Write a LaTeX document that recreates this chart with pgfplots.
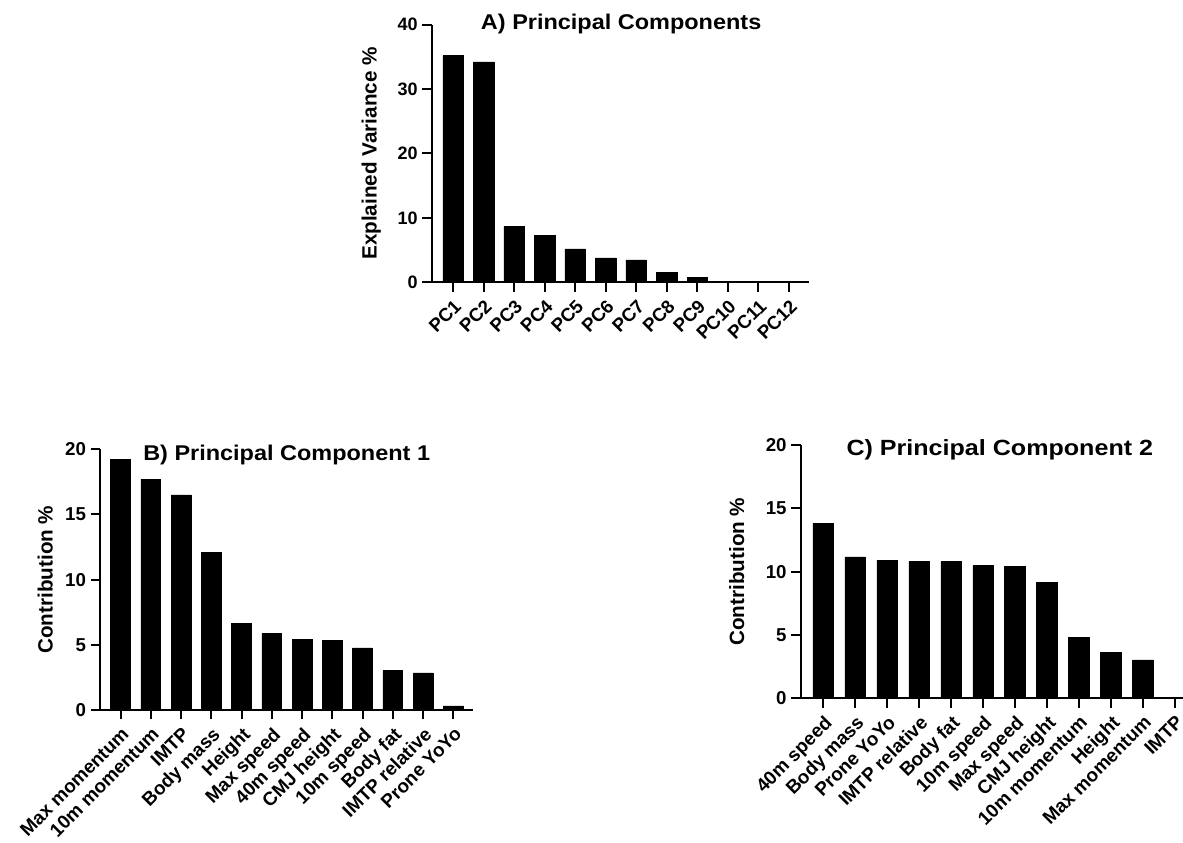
\documentclass[border=0pt]{standalone}
\usepackage{pgfplots}
\pgfplotsset{compat=1.18}
\usepackage{fontspec}
\usepackage{graphicx}
\setmainfont{Liberation Sans}
\newcommand{\wide}[2][1.1]{\scalebox{#1}[1]{#2}}
\pgfplotsset{
  pcstyle/.style={
    scale only axis,
    anchor=south west,
    ybar,
    axis x line=bottom,
    axis y line=left,
    axis line style={-, line width=1.5pt, black},
    tick style={line width=1.5pt, black},
    major tick length=7pt,
    tick align=outside,
    ymin=0,
    xtick=data,
    clip=false,
    /pgf/number format/assume math mode=true,
    tick label style={font=\fontsize{14}{16}\selectfont\bfseries},
    x tick label style={rotate=45, anchor=north east, inner sep=3.5pt, font=\fontsize{14.2}{16}\selectfont\bfseries},
    ylabel style={font=\fontsize{15.5}{18}\selectfont\bfseries, anchor=center},
  }
}
\begin{document}
\begin{tikzpicture}
\path[use as bounding box] (0,0) rectangle (887.25pt,632.25pt);
% Panel A
\begin{axis}[pcstyle,
  at={(323.8pt,420.5pt)}, width=283pt, height=193.3pt,
  xmin=-0.70, xmax=11.66, ymax=40, ytick={0,10,20,30,40},
  bar width=15.5pt,
  y tick label style={font=\fontsize{13.5}{16}\selectfont\bfseries},
  x tick label style={font=\fontsize{14}{16}\selectfont\bfseries, inner sep=3.5pt},
  xticklabels={PC1,PC2,PC3,PC4,PC5,PC6,PC7,PC8,PC9,PC10,PC11,PC12},
  ylabel={Explained Variance \%},
  ylabel style={at={(axis description cs:-0.16,0.5)}},
]
\addplot[fill=black, draw=black] coordinates {(0,35.2) (1,34.2) (2,8.7) (3,7.25) (4,5.2) (5,3.8) (6,3.5) (7,1.55) (8,0.78) (9,0) (10,0) (11,0)};
\node[anchor=base, font=\fontsize{16}{19}\selectfont\bfseries] at (axis description cs:0.502,0.982) {\wide{A) Principal Components}};
\end{axis}
% Panel B
\begin{axis}[pcstyle,
  at={(75pt,99.75pt)}, width=279.75pt, height=195.5pt,
  xmin=-0.68, xmax=11.65, ymax=20, ytick={0,5,10,15,20},
  bar width=14.8pt,
  xticklabels={Max momentum,10m momentum,IMTP,Body mass,Height,Max speed,40m speed,CMJ height,10m speed,Body fat,IMTP relative,Prone YoYo},
  ylabel={Contribution \%},
  ylabel style={at={(axis description cs:-0.147,0.5)}},
]
\addplot[fill=black, draw=black] coordinates {(0,19.23) (1,17.72) (2,16.5) (3,12.12) (4,6.65) (5,5.88) (6,5.42) (7,5.32) (8,4.76) (9,3.04) (10,2.84) (11,0.31)};
\node[anchor=base, font=\fontsize{16}{19}\selectfont\bfseries] at (axis description cs:0.5005,0.959) {\wide{B) Principal Component 1}};
\end{axis}
% Panel C
\begin{axis}[pcstyle,
  at={(600.5pt,108.5pt)}, width=286.7pt, height=190pt,
  xmin=-0.707, xmax=11.25, ymax=20, ytick={0,5,10,15,20},
  bar width=15.5pt,
  xticklabels={40m speed,Body mass,Prone YoYo,IMTP relative,Body fat,10m speed,Max speed,CMJ height,10m momentum,Height,Max momentum,IMTP},
  ylabel={Contribution \%},
  ylabel style={at={(axis description cs:-0.167,0.5)}},
]
\addplot[fill=black, draw=black] coordinates {(0,13.82) (1,11.16) (2,10.89) (3,10.82) (4,10.79) (5,10.47) (6,10.42) (7,9.13) (8,4.84) (9,3.63) (10,3.03) (11,0)};
\node[anchor=base, font=\fontsize{16.5}{19}\selectfont\bfseries] at (axis description cs:0.521,0.96) {\wide[1.14]{C) Principal Component 2}};
\end{axis}
\end{tikzpicture}
\end{document}
